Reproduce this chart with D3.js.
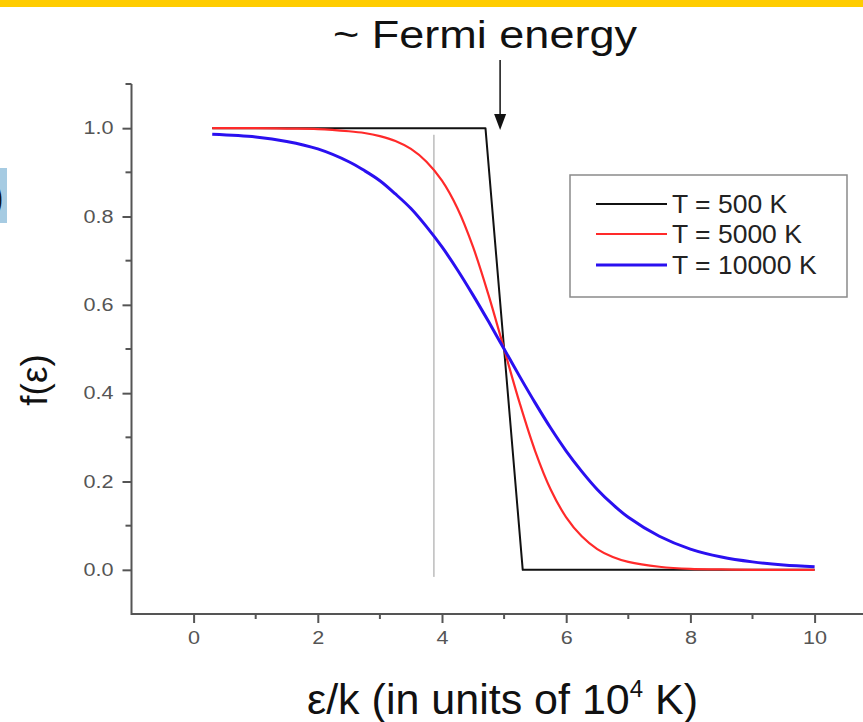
<!DOCTYPE html>
<html>
<head>
<meta charset="utf-8">
<script src="https://cdn.jsdelivr.net/npm/d3@7"></script>
<style>
  body { margin: 0; background: #fff; }
  svg { display: block; font-family: "Liberation Sans", Arial, sans-serif; }
</style>
</head>
<body>
<svg id="chart" width="863" height="722"></svg>
<script>
// values
const seriesNames = ["T = 500 K", "T = 5000 K", "T = 10000 K"];
const blackX = [0.3, 4.7, 5.3, 10];
const blackF = [1.0, 1.0, 0.0, 0.0];
const smoothX = [0.3, 1, 1.5, 2, 2.5, 2.75, 3, 3.25, 3.5, 3.75, 4, 4.25, 4.5, 4.75, 5, 5.25, 5.5, 5.75, 6, 6.25, 6.5, 6.75, 7, 7.5, 8, 8.5, 9, 9.5, 10];
const redF = [1.0, 1.0, 0.999, 0.998, 0.993, 0.989, 0.982, 0.971, 0.953, 0.924, 0.881, 0.818, 0.731, 0.622, 0.5, 0.378, 0.269, 0.182, 0.119, 0.076, 0.047, 0.029, 0.018, 0.007, 0.002, 0.001, 0, 0, 0];
const blueF = [0.986, 0.98, 0.97, 0.953, 0.924, 0.904, 0.881, 0.851, 0.818, 0.777, 0.731, 0.679, 0.622, 0.562, 0.5, 0.438, 0.378, 0.321, 0.269, 0.223, 0.182, 0.148, 0.119, 0.076, 0.047, 0.029, 0.018, 0.011, 0.007];
const xTicks = [0, 2, 4, 6, 8, 10];
const xMinor = [1, 3, 5, 7, 9];
const yTicks = [0, 0.2, 0.4, 0.6, 0.8, 1.0];
const yMinor = [0.1, 0.3, 0.5, 0.7, 0.9];
const markerX = 3.87;   // thin grey guide line
const markerRange = [-0.016, 0.985];
const fermiX = 5;

const colors = ["#111111", "#ff2a2a", "#2a10f0"];
const widths = [2, 2.2, 3];

const svg = d3.select("#chart");

// top banner + clipped box at left edge
svg.append("rect").attr("x", 0).attr("y", 0).attr("width", 863).attr("height", 7).attr("fill", "#ffcc00");
svg.append("rect").attr("x", 0).attr("y", 168).attr("width", 7).attr("height", 55).attr("fill", "#a6cbe2");
svg.append("text").attr("x", 4).attr("y", 211).attr("text-anchor", "end")
    .style("font-size", "42px").attr("fill", "#111").text(")");

const x = d3.scaleLinear().domain([-1, 11]).range([131.5, 876.7]);
const y = d3.scaleLinear().domain([-0.1, 1.1]).range([614, 84]);

// axes
const axisColor = "#555";
const xAxis = svg.append("g").attr("transform", `translate(0,${y(-0.1)})`);
xAxis.append("line").attr("x1", x(-1)).attr("x2", 863).attr("stroke", axisColor).attr("stroke-width", 2);
xAxis.selectAll(".minor").data(xMinor).join("line")
    .attr("x1", d => x(d)).attr("x2", d => x(d)).attr("y1", 0).attr("y2", 5)
    .attr("stroke", axisColor).attr("stroke-width", 2);
xAxis.call(d3.axisBottom(x).tickValues(xTicks).tickFormat(d3.format("d")).tickSize(9).tickPadding(8))
    .call(g => g.select(".domain").remove())
    .call(g => g.selectAll(".tick line").attr("stroke", axisColor).attr("stroke-width", 2))
    .call(g => g.selectAll(".tick text").attr("fill", "#555").style("font-size", "18px")
        .style("font-family", "'Liberation Sans', Arial, sans-serif"));

const yAxis = svg.append("g").attr("transform", `translate(${x(-1)},0)`);
yAxis.append("line").attr("y1", y(1.1)).attr("y2", y(-0.1) + 1).attr("stroke", axisColor).attr("stroke-width", 2);
yAxis.selectAll(".minor").data(yMinor.concat([1.1])).join("line")
    .attr("y1", d => y(d)).attr("y2", d => y(d)).attr("x1", 0).attr("x2", -6)
    .attr("stroke", axisColor).attr("stroke-width", 2);
yAxis.call(d3.axisLeft(y).tickValues(yTicks).tickFormat(d3.format(".1f")).tickSize(9).tickPadding(9))
    .call(g => g.select(".domain").remove())
    .call(g => g.selectAll(".tick line").attr("stroke", axisColor).attr("stroke-width", 2))
    .call(g => g.selectAll(".tick text").attr("fill", "#555").style("font-size", "18px")
        .style("font-family", "'Liberation Sans', Arial, sans-serif"));

// tick labels in the picture are a bit wider than the font
svg.selectAll(".tick text").each(function() {
    const w = this.getComputedTextLength();
    d3.select(this).attr("textLength", w * 1.2).attr("lengthAdjust", "spacingAndGlyphs");
});

// guide line
svg.append("line")
    .attr("x1", x(markerX)).attr("x2", x(markerX))
    .attr("y1", y(markerRange[1])).attr("y2", y(markerRange[0]))
    .attr("stroke", "#9a9a9a").attr("stroke-width", 1);

// curves
const series = [
    {xs: blackX, fs: blackF, curve: d3.curveLinear},
    {xs: smoothX, fs: redF, curve: d3.curveCatmullRom},
    {xs: smoothX, fs: blueF, curve: d3.curveCatmullRom}
];
series.forEach((s, i) => {
    const pts = s.xs.map((v, j) => [v, s.fs[j]]);
    svg.append("path")
        .datum(pts)
        .attr("fill", "none")
        .attr("stroke", colors[i])
        .attr("stroke-width", widths[i])
        .attr("stroke-linejoin", "round")
        .attr("d", d3.line().x(d => x(d[0])).y(d => y(d[1])).curve(s.curve));
});

// Fermi energy arrow + title
const ax = x(fermiX) - 4;
svg.append("line").attr("x1", ax).attr("x2", ax).attr("y1", 60).attr("y2", 118)
    .attr("stroke", "#111").attr("stroke-width", 1.5);
svg.append("path").attr("d", `M${ax - 6},114 L${ax + 6},114 L${ax},130 Z`).attr("fill", "#111");
svg.append("text").attr("x", 333).attr("y", 48)
    .attr("textLength", 304).attr("lengthAdjust", "spacingAndGlyphs")
    .style("font-size", "39px").attr("fill", "#111").text("~ Fermi energy");

// legend
const lg = svg.append("g");
lg.append("rect").attr("x", 570).attr("y", 175).attr("width", 277).attr("height", 122)
    .attr("fill", "#fff").attr("stroke", "#8a8a8a").attr("stroke-width", 1.5);
const rowY = [204, 234, 265];
seriesNames.forEach((name, i) => {
    lg.append("line").attr("x1", 596).attr("x2", 667).attr("y1", rowY[i]).attr("y2", rowY[i])
        .attr("stroke", colors[i]).attr("stroke-width", widths[i]);
    lg.append("text").attr("x", 672).attr("y", rowY[i] + 9)
        .style("font-size", "26.5px").attr("fill", "#222").text(name);
});

// axis titles
const xl = svg.append("text").attr("x", 307).attr("y", 714)
    .style("font-size", "43px").attr("fill", "#111");
xl.append("tspan").text("ε/k (in units of 10");
xl.append("tspan").attr("dy", -17).style("font-size", "24px").text("4");
xl.append("tspan").attr("dy", 17).text(" K)");

svg.append("text")
    .attr("transform", `translate(47,380) rotate(-90)`)
    .attr("text-anchor", "middle")
    .style("font-size", "37px").attr("fill", "#111").text("f(ε)");
</script>
</body>
</html>
